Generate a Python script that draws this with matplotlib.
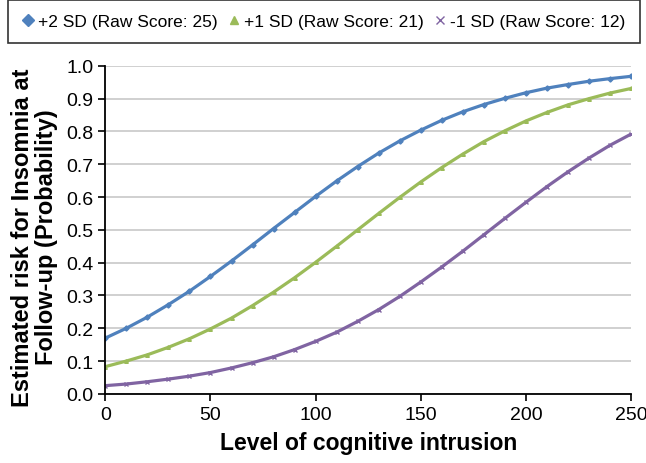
import matplotlib
matplotlib.use("Agg")
import matplotlib.pyplot as plt

plt.rcParams['font.family'] = ['Liberation Sans', 'DejaVu Sans']

# values, every 10 units of cognitive intrusion
intrusion = [0, 10, 20, 30, 40, 50, 60, 70, 80, 90, 100, 110, 120,
             130, 140, 150, 160, 170, 180, 190, 200, 210, 220, 230, 240, 250]
plus2_sd = [0.170, 0.200, 0.234, 0.272, 0.313, 0.358, 0.405, 0.454, 0.504,
            0.553, 0.602, 0.649, 0.693, 0.734, 0.771, 0.804, 0.834, 0.860,
            0.882, 0.901, 0.918, 0.932, 0.943, 0.953, 0.961, 0.968]
plus1_sd = [0.083, 0.100, 0.119, 0.142, 0.168, 0.198, 0.231, 0.269, 0.310,
            0.354, 0.401, 0.450, 0.500, 0.550, 0.599, 0.646, 0.690, 0.731,
            0.769, 0.802, 0.832, 0.858, 0.881, 0.900, 0.917, 0.931]
minus1_sd = [0.025, 0.030, 0.037, 0.045, 0.054, 0.065, 0.079, 0.095, 0.113,
             0.135, 0.160, 0.188, 0.221, 0.257, 0.297, 0.341, 0.387, 0.435,
             0.485, 0.535, 0.584, 0.632, 0.677, 0.719, 0.758, 0.792]

labels = ['+2 SD (Raw Score: 25)', '+1 SD (Raw Score: 21)', '-1 SD (Raw Score: 12)']
colors = ['#4F81BD', '#9BBB59', '#8064A2']
markers = ['D', '^', 'x']

fig = plt.figure(figsize=(6.46, 4.64), dpi=100)
ax = fig.add_axes([0.163, 0.149, 0.814, 0.707])

for ys, lab, col, mk in zip([plus2_sd, plus1_sd, minus1_sd], labels, colors, markers):
    ax.plot(intrusion, ys, color=col, lw=2.3, solid_capstyle='butt')
    ax.plot(intrusion, ys, ls='none', marker=mk, color=col, ms=2.6,
            mew=1.0, label=lab)

ax.set_xlim(0, 250)
ax.set_ylim(0, 1.0)
ax.set_xticks(range(0, 251, 50))
ax.set_yticks([i / 10 for i in range(11)])
ax.set_yticklabels([f'{i / 10:.1f}' for i in range(11)])
ax.grid(axis='y', color='#C8C8C8', lw=1.2)
ax.set_axisbelow(True)
for side in ['top', 'right']:
    ax.spines[side].set_visible(False)
for side in ['left', 'bottom']:
    ax.spines[side].set_linewidth(1.3)
ax.tick_params(direction='out', length=5, width=1.2, labelsize=14, colors='black')

ax.set_xlabel('Level of cognitive intrusion', fontsize=16.5, fontweight='bold', labelpad=6)
ax.set_ylabel('Estimated risk for Insomnia at\nFollow-up (Probability)', fontsize=17,
              fontweight='bold', linespacing=1.1)
ax.yaxis.set_label_coords(-0.089, 0.48)

leg = fig.legend(loc='upper left', bbox_to_anchor=(0.012, 0.997, 0.978, 0), mode='expand',
                 ncol=3, fontsize=12.5, frameon=True, fancybox=False, edgecolor='black',
                 handlelength=0.7, handletextpad=0.25, columnspacing=0.9,
                 borderpad=0.8, borderaxespad=0, markerscale=2.3)
leg.get_frame().set_linewidth(1.2)

fig.savefig('out.png', dpi=100)
